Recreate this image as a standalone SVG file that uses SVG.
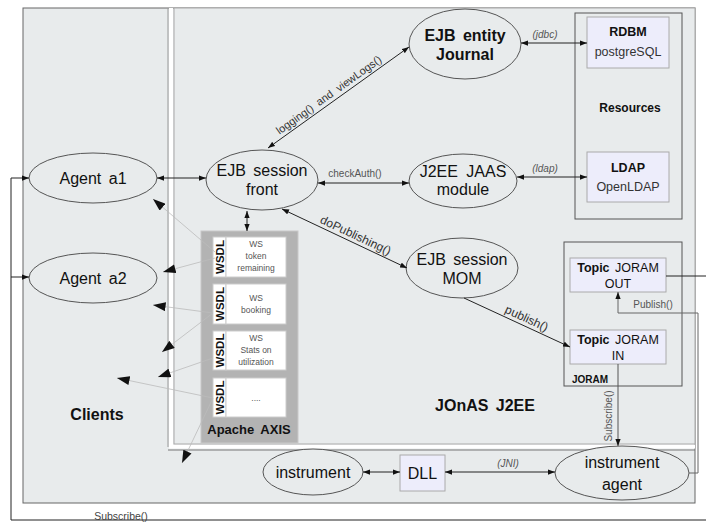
<svg xmlns="http://www.w3.org/2000/svg" width="706" height="522" viewBox="0 0 706 522">
<defs>
<marker id="a" viewBox="0 0 8 6" refX="8" refY="3" markerWidth="7" markerHeight="5.5" markerUnits="userSpaceOnUse" orient="auto-start-reverse"><path d="M0,0 L8,3 L0,6 z" fill="#111"/></marker>
<marker id="b" viewBox="0 0 14 10" refX="14" refY="5" markerWidth="13" markerHeight="9" markerUnits="userSpaceOnUse" orient="auto"><path d="M0,0 L14,5 L0,10 z" fill="#111"/></marker>
</defs>
<style>
text{font-family:"Liberation Sans",Arial,sans-serif;fill:#111}
.el{fill:#e8ebec;stroke:#555;stroke-width:1}
.bx{fill:#ededfb;stroke:#aaa;stroke-width:1}
.t16{font-size:16px;text-anchor:middle}
.b16{font-size:16px;font-weight:bold;text-anchor:middle;word-spacing:3px}
.lbl{font-size:11px;fill:#333}
.it{font-size:10px;font-style:italic;fill:#555}
.c{fill:none;stroke:#222;stroke-width:1}
.g{fill:none;stroke:#bbb;stroke-width:0.8}
.ws{font-size:8.5px;fill:#555;text-anchor:middle}
.wsdl{font-size:11.5px;font-weight:bold;text-anchor:middle}
</style>
<rect width="706" height="522" fill="#fff"/>
<g id="panels">
<rect x="23" y="8" width="672" height="495" fill="#e8ebec" stroke="#666"/>
<path d="M171,8 V446.5 H695" stroke="#fff" stroke-width="4" fill="none"/>
<rect x="174" y="8" width="521" height="436" fill="#e8ebec" stroke="#aaa"/>
<line x1="168" y1="8" x2="168" y2="447" stroke="#999"/>
<line x1="168" y1="450" x2="695" y2="450" stroke="#777"/>
<text x="97" y="420" class="b16">Clients</text>
<text x="485" y="411" class="b16">JOnAS J2EE</text>
</g>
<g id="resources">
<rect x="575" y="13" width="107" height="206" fill="none" stroke="#555"/>
<text x="630" y="112" style="font-size:12px;font-weight:bold;text-anchor:middle">Resources</text>
</g>
<g id="rdbm">
<rect x="587" y="17" width="82" height="51" class="bx"/>
<text x="628" y="36" style="font-size:12.5px;font-weight:bold;text-anchor:middle">RDBM</text>
<text x="628" y="56" style="font-size:12.5px;text-anchor:middle;fill:#333">postgreSQL</text>
</g>
<g id="ldap">
<rect x="587" y="152" width="82" height="50" class="bx"/>
<text x="628" y="172" style="font-size:12.5px;font-weight:bold;text-anchor:middle">LDAP</text>
<text x="628" y="191" style="font-size:12.5px;text-anchor:middle;fill:#333">OpenLDAP</text>
</g>
<g id="joram">
<rect x="564" y="242" width="118" height="144" fill="none" stroke="#555"/>
<text x="572" y="383" style="font-size:10px;font-weight:bold">JORAM</text>
</g>
<g id="topic-out">
<rect x="570" y="258" width="96" height="34" class="bx"/>
<text x="618" y="272" style="font-size:12.5px;text-anchor:middle;word-spacing:2px"><tspan font-weight="bold">Topic</tspan> JORAM</text>
<text x="618" y="288" style="font-size:12.5px;text-anchor:middle">OUT</text>
</g>
<g id="topic-in">
<rect x="570" y="330" width="96" height="34" class="bx"/>
<text x="618" y="344" style="font-size:12.5px;text-anchor:middle;word-spacing:2px"><tspan font-weight="bold">Topic</tspan> JORAM</text>
<text x="618" y="360" style="font-size:12.5px;text-anchor:middle">IN</text>
</g>
<g id="journal">
<ellipse cx="465" cy="44" rx="56" ry="35" class="el"/>
<text x="465" y="41" class="b16">EJB entity</text>
<text x="465" y="60" class="b16">Journal</text>
</g>
<g id="front">
<ellipse cx="262" cy="180" rx="56" ry="30" class="el"/>
<text x="262" y="176" class="t16" style="word-spacing:3px">EJB session</text>
<text x="262" y="195" class="t16">front</text>
</g>
<g id="jaas">
<ellipse cx="463" cy="181" rx="54" ry="27" class="el"/>
<text x="463" y="177" class="t16" style="word-spacing:4px">J2EE JAAS</text>
<text x="463" y="195" class="t16">module</text>
</g>
<g id="mom">
<ellipse cx="462" cy="268" rx="56" ry="30" class="el"/>
<text x="462" y="265" class="t16" style="word-spacing:3px">EJB session</text>
<text x="462" y="284" class="t16">MOM</text>
</g>
<g id="agent-a1">
<ellipse cx="93" cy="178" rx="64" ry="25" class="el"/>
<text x="93" y="184" class="t16" style="word-spacing:3px">Agent a1</text>
</g>
<g id="agent-a2">
<ellipse cx="93" cy="278" rx="64" ry="25" class="el"/>
<text x="93" y="284" class="t16" style="word-spacing:3px">Agent a2</text>
</g>
<g id="axis">
<rect x="201" y="231" width="97" height="212" fill="#b3b3b3" stroke="#c8c8c8"/>
<text x="249" y="434" style="font-size:13px;font-weight:bold;text-anchor:middle;word-spacing:3px">Apache AXIS</text>
<g id="ws-token">
<rect x="213" y="237" width="13" height="40" fill="#fff" stroke="#ccc"/>
<rect x="226" y="237" width="60" height="40" fill="#fff" stroke="#ccc"/>
<text transform="translate(224,257) rotate(-90)" class="wsdl">WSDL</text>
<text x="256" y="247" class="ws">WS</text>
<text x="256" y="259" class="ws">token</text>
<text x="256" y="271" class="ws">remaining</text>
</g>
<g id="ws-booking">
<rect x="213" y="284" width="13" height="40" fill="#fff" stroke="#ccc"/>
<rect x="226" y="284" width="60" height="40" fill="#fff" stroke="#ccc"/>
<text transform="translate(224,304) rotate(-90)" class="wsdl">WSDL</text>
<text x="256" y="301" class="ws">WS</text>
<text x="256" y="313" class="ws">booking</text>
</g>
<g id="ws-stats">
<rect x="213" y="331" width="13" height="39" fill="#fff" stroke="#ccc"/>
<rect x="226" y="331" width="60" height="39" fill="#fff" stroke="#ccc"/>
<text transform="translate(224,350.5) rotate(-90)" class="wsdl">WSDL</text>
<text x="256" y="341" class="ws">WS</text>
<text x="256" y="353" class="ws">Stats on</text>
<text x="256" y="365" class="ws">utilization</text>
</g>
<g id="ws-more">
<rect x="213" y="378" width="13" height="39" fill="#fff" stroke="#ccc"/>
<rect x="226" y="378" width="60" height="39" fill="#fff" stroke="#ccc"/>
<text transform="translate(224,397.5) rotate(-90)" class="wsdl">WSDL</text>
<text x="256" y="401" class="ws">....</text>
</g>
</g>
<g id="instrument">
<ellipse cx="313" cy="472" rx="50" ry="23" class="el"/>
<text x="313" y="478" class="t16">instrument</text>
</g>
<g id="dll">
<rect x="400" y="455" width="45" height="36" class="bx"/>
<text x="422.5" y="479" class="t16">DLL</text>
</g>
<g id="instrument-agent">
<ellipse cx="622" cy="473" rx="67" ry="27" class="el"/>
<text x="622" y="468" class="t16">instrument</text>
<text x="622" y="490" class="t16">agent</text>
</g>
<g id="connectors">
<line x1="157" y1="178" x2="206" y2="178" class="c" marker-start="url(#a)" marker-end="url(#a)"/>
<line x1="318" y1="183" x2="409" y2="183" class="c" marker-start="url(#a)" marker-end="url(#a)"/>
<text x="355" y="177" style="font-size:10px;fill:#555;text-anchor:middle">checkAuth()</text>
<line x1="268" y1="148" x2="409" y2="47" class="c" marker-start="url(#a)" marker-end="url(#a)"/>
<text transform="translate(331,98) rotate(-35.6)" class="lbl" style="text-anchor:middle;word-spacing:3px">logging() and viewLogs()</text>
<line x1="282" y1="209" x2="407" y2="268" class="c" marker-start="url(#a)" marker-end="url(#a)"/>
<text transform="translate(354,239) rotate(25.3)" class="lbl" style="text-anchor:middle;font-size:12px">doPublishing()</text>
<line x1="464" y1="298" x2="570" y2="347" class="c" marker-end="url(#a)"/>
<text transform="translate(525,322) rotate(24.8)" class="lbl" style="text-anchor:middle;font-size:12px">publish()</text>
<line x1="521" y1="43" x2="587" y2="43" class="c" marker-start="url(#a)" marker-end="url(#a)"/>
<text x="545" y="38" class="it" style="text-anchor:middle">(jdbc)</text>
<line x1="517" y1="177" x2="587" y2="177" class="c" marker-start="url(#a)" marker-end="url(#a)"/>
<text x="545" y="172" class="it" style="text-anchor:middle">(ldap)</text>
<line x1="247" y1="211" x2="247" y2="231" class="c" marker-start="url(#a)" marker-end="url(#a)"/>
<line x1="363" y1="472" x2="400" y2="472" class="c" marker-start="url(#a)" marker-end="url(#a)"/>
<line x1="445" y1="472" x2="555" y2="472" class="c" marker-start="url(#a)" marker-end="url(#a)"/>
<text x="508" y="467" class="it" style="text-anchor:middle">(JNI)</text>
<line x1="618" y1="364" x2="618" y2="446" fill="none" stroke="#555" marker-end="url(#a)"/>
<text transform="translate(612,416) rotate(-90)" style="font-size:10px;fill:#555;text-anchor:middle">Subscribe()</text>
<path d="M689,473 H698 V313 H618 V292" fill="none" stroke="#666" marker-end="url(#a)"/>
<text x="653" y="308" style="font-size:10px;fill:#555;text-anchor:middle">Publish()</text>
<path d="M666,276 H706" class="c"/>
<path d="M706,520 H11 V178 H29" class="c" marker-end="url(#a)"/>
<path d="M11,277 H29" class="c" marker-end="url(#a)"/>
<text x="121" y="520" style="font-size:10.5px;fill:#444;text-anchor:middle">Subscribe()</text>
<line x1="215" y1="252" x2="153" y2="199" class="g" marker-end="url(#b)"/>
<line x1="215" y1="258" x2="163" y2="272" class="g" marker-end="url(#b)"/>
<line x1="213" y1="313" x2="153" y2="305" class="g" marker-end="url(#b)"/>
<line x1="213" y1="313" x2="162" y2="352" class="g" marker-end="url(#b)"/>
<line x1="213" y1="358" x2="158" y2="377" class="g" marker-end="url(#b)"/>
<line x1="213" y1="398" x2="117" y2="378" class="g" marker-end="url(#b)"/>
<line x1="213" y1="398" x2="182" y2="463" class="g" marker-end="url(#b)"/>
</g>
</svg>
